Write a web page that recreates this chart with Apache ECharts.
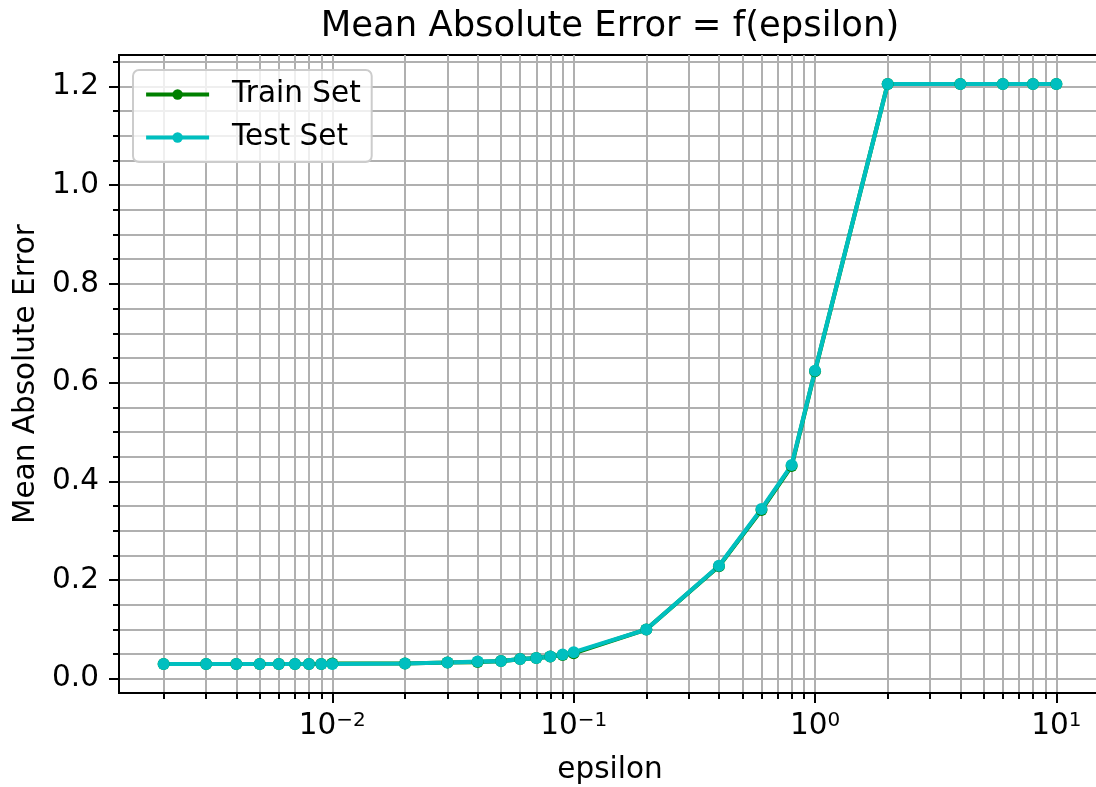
<!DOCTYPE html>
<html>
<head>
<meta charset="utf-8">
<title>Mean Absolute Error = f(epsilon)</title>
<script src="https://cdn.jsdelivr.net/npm/echarts@6/dist/echarts.min.js"></script>
<style>
  html, body { margin: 0; padding: 0; background: #fff; }
  #chart { width: 1096px; height: 787px; }
</style>
</head>
<body>
<div id="chart"></div>
<script>
// epsilon values used for the sweep
const epsilon = [0.002, 0.003, 0.004, 0.005, 0.006, 0.007, 0.008, 0.009, 0.01,
                 0.02, 0.03, 0.04, 0.05, 0.06, 0.07, 0.08, 0.09, 0.1,
                 0.2, 0.4, 0.6, 0.8, 1, 2, 4, 6, 8, 10];

// mean absolute error for each epsilon
const trainMAE = [0.030, 0.030, 0.030, 0.030, 0.030, 0.030, 0.030, 0.030, 0.031,
                  0.031, 0.033, 0.034, 0.036, 0.040, 0.042, 0.045, 0.048, 0.052,
                  0.100, 0.228, 0.342, 0.431, 0.623, 1.205, 1.205, 1.205, 1.205, 1.205];
const testMAE  = [0.030, 0.030, 0.030, 0.030, 0.030, 0.030, 0.030, 0.030, 0.030,
                  0.031, 0.033, 0.035, 0.036, 0.040, 0.042, 0.045, 0.049, 0.054,
                  0.100, 0.229, 0.344, 0.433, 0.624, 1.205, 1.205, 1.205, 1.205, 1.205];

// tick positions
const xMajorTicks = [0.01, 0.1, 1, 10];
const xMinorTicks = [0.002, 0.003, 0.004, 0.005, 0.006, 0.007, 0.008, 0.009,
                     0.02, 0.03, 0.04, 0.05, 0.06, 0.07, 0.08, 0.09,
                     0.2, 0.3, 0.4, 0.5, 0.6, 0.7, 0.8, 0.9,
                     2, 3, 4, 5, 6, 7, 8, 9];
const yMajorTicks = [0.0, 0.2, 0.4, 0.6, 0.8, 1.0, 1.2];
const yMinorTicks = [0.0, 0.05, 0.1, 0.15, 0.2, 0.25, 0.3, 0.35, 0.4, 0.45, 0.5,
                     0.55, 0.6, 0.65, 0.7, 0.75, 0.8, 0.85, 0.9, 0.95, 1.0,
                     1.05, 1.1, 1.15, 1.2, 1.25];

// axis limits with a 5% margin around the data (log space for x)
const lx = epsilon.map(Math.log10);
const lxMin = Math.min(...lx), lxMax = Math.max(...lx);
const xPad = (lxMax - lxMin) * 0.05;
const xMin = Math.pow(10, lxMin - xPad), xMax = Math.pow(10, lxMax + xPad);
const allY = trainMAE.concat(testMAE);
const yLo = Math.min(...allY), yHi = Math.max(...allY);
const yPad = (yHi - yLo) * 0.05;
const yMin = yLo - yPad, yMax = yHi + yPad;

const FONT = 'DejaVu Sans';
const FS = 29.5;          // tick / label font size
const GRID_COLOR = '#b0b0b0';

const chart = echarts.init(document.getElementById('chart'), null, { renderer: 'canvas' });

const baseX = { type: 'log', logBase: 10, min: xMin, max: xMax, gridIndex: 0 };
const baseY = { type: 'value', min: yMin, max: yMax, gridIndex: 0 };

chart.setOption({
  animation: false,
  textStyle: { fontFamily: FONT, color: '#000' },
  title: {
    text: 'Mean Absolute Error = f(epsilon)',
    left: 610, top: 9, padding: 0,
    textAlign: 'center',
    textStyle: { fontFamily: FONT, fontSize: 35.4, fontWeight: 'normal', color: '#000' }
  },
  grid: {
    left: 119, top: 55, width: 982, height: 638,
    containLabel: false, outerBoundsMode: 'none',
    show: true, borderColor: '#000', borderWidth: 2, backgroundColor: 'transparent'
  },
  legend: {
    left: 133, top: 70, orient: 'vertical',
    padding: [9, 11, 9, 11],
    itemWidth: 63, itemHeight: 13, itemGap: 12,
    backgroundColor: 'rgba(255,255,255,0.8)',
    borderColor: '#cccccc', borderWidth: 2, borderRadius: 6,
    lineStyle: { width: 4.2 },
    textStyle: { fontFamily: FONT, fontSize: FS, lineHeight: 31, color: '#000', padding: [0, 0, 0, 18] },
    data: ['Train Set', 'Test Set']
  },
  xAxis: [
    Object.assign({}, baseX, {
      position: 'bottom',
      axisLine: { show: true, onZero: false, lineStyle: { color: '#000', width: 2 } },
      axisTick: { show: true, customValues: xMinorTicks.concat(xMajorTicks), length: 6, lineStyle: { color: '#000', width: 2 } },
      axisLabel: { show: false },
      splitLine: { show: true, lineStyle: { color: GRID_COLOR, width: 2 } }
    }),
    Object.assign({}, baseX, {
      position: 'bottom',
      name: 'epsilon', nameLocation: 'middle', nameGap: 62, nameMoveOverlap: false,
      nameTextStyle: { fontFamily: FONT, fontSize: FS, color: '#000' },
      axisLine: { show: false, onZero: false },
      axisTick: { show: true, customValues: xMajorTicks, length: 10, lineStyle: { color: '#000', width: 2 } },
      axisLabel: {
        show: true, customValues: xMajorTicks, margin: 18,
        formatter: function (v) {
          const e = Math.round(Math.log10(v));
          const exp = e < 0 ? '\u2212' + (-e) : String(e);
          return '{b|10}{s|' + exp + '}';
        },
        rich: {
          b: { fontFamily: FONT, fontSize: FS, lineHeight: 31, color: '#000' },
          s: { fontFamily: FONT, fontSize: 20, lineHeight: 19, verticalAlign: 'top', color: '#000' }
        }
      },
      splitLine: { show: false }
    })
  ],
  yAxis: [
    Object.assign({}, baseY, {
      position: 'left',
      axisLine: { show: true, onZero: false, lineStyle: { color: '#000', width: 2 } },
      axisTick: { show: true, customValues: yMinorTicks, length: 6, lineStyle: { color: '#000', width: 2 } },
      axisLabel: { show: false },
      splitLine: { show: true, lineStyle: { color: GRID_COLOR, width: 2 } }
    }),
    Object.assign({}, baseY, {
      position: 'left',
      name: 'Mean Absolute Error', nameLocation: 'middle', nameGap: 78, nameMoveOverlap: false,
      nameTextStyle: { fontFamily: FONT, fontSize: FS, color: '#000' },
      axisLine: { show: false, onZero: false },
      axisTick: { show: true, customValues: yMajorTicks, length: 10, lineStyle: { color: '#000', width: 2 } },
      axisLabel: {
        show: true, customValues: yMajorTicks, margin: 20,
        fontFamily: FONT, fontSize: FS, color: '#000',
        formatter: function (v) { return v.toFixed(1); }
      },
      splitLine: { show: false }
    })
  ],
  series: [
    {
      name: 'Train Set', type: 'line', xAxisIndex: 0, yAxisIndex: 0,
      data: epsilon.map((e, i) => [e, trainMAE[i]]),
      symbol: 'circle', symbolSize: 12, showSymbol: true,
      lineStyle: { color: '#008000', width: 4.2 },
      itemStyle: { color: '#008000' },
      emphasis: { disabled: true }
    },
    {
      name: 'Test Set', type: 'line', xAxisIndex: 0, yAxisIndex: 0,
      data: epsilon.map((e, i) => [e, testMAE[i]]),
      symbol: 'circle', symbolSize: 12, showSymbol: true,
      lineStyle: { color: '#00bfbf', width: 4.2 },
      itemStyle: { color: '#00bfbf' },
      emphasis: { disabled: true }
    }
  ]
});
</script>
</body>
</html>
